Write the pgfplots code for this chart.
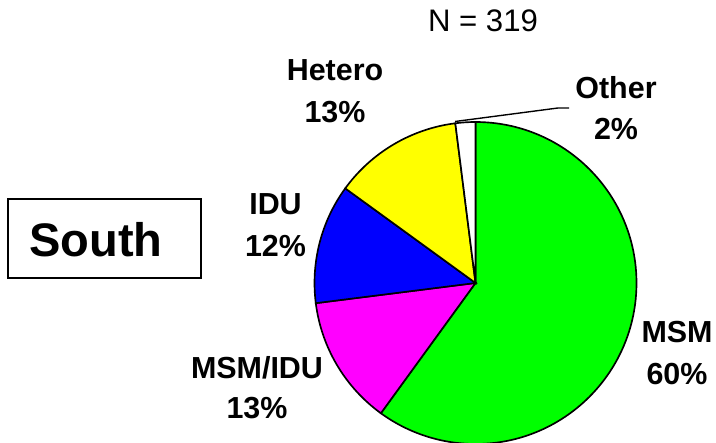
\documentclass[border=0pt]{standalone}
\usepackage{fontspec}
\setmainfont{Liberation Sans}
\usepackage{xcolor}
\usepackage{pgfplots}
\pgfplotsset{compat=1.18}

\definecolor{msm}{HTML}{00FF00}
\definecolor{msmidu}{HTML}{FF00FF}
\definecolor{idu}{HTML}{0000FF}
\definecolor{hetero}{HTML}{FFFF00}
\definecolor{other}{HTML}{FFFFFF}

\tikzset{labelfont/.style={font=\bfseries\fontsize{22}{26}\selectfont, anchor=base, inner sep=0pt}}

% shares in percent (N = 319), clockwise from 12 o'clock
\def\pMSM{60}
\def\pMSMIDU{13}
\def\pIDU{12}
\def\pHetero{13}
\def\pOther{2}

% 1 axis unit = 0.01in = 0.7227pt
\def\R{116.35pt}

\pgfmathsetmacro{\aA}{90}
\pgfmathsetmacro{\aB}{90-3.6*\pMSM}
\pgfmathsetmacro{\aC}{\aB-3.6*\pMSMIDU}
\pgfmathsetmacro{\aD}{\aC-3.6*\pIDU}
\pgfmathsetmacro{\aE}{\aD-3.6*\pHetero}
\pgfmathsetmacro{\aF}{\aE-3.6*\pOther}

\begin{document}
\begin{tikzpicture}
  \begin{axis}[
      width=7.16in,
      height=4.43in,
      scale only axis,
      xmin=0, xmax=716,
      ymin=0, ymax=443,
      hide axis,
      clip=false,
  ]
    \filldraw[fill=msm, draw=black, line width=1.2pt]
      (axis cs:475.5,160) -- ++(\aA:\R) arc[start angle=\aA, end angle=\aB, radius=\R] -- cycle;
    \filldraw[fill=msmidu, draw=black, line width=1.2pt]
      (axis cs:475.5,160) -- ++(\aB:\R) arc[start angle=\aB, end angle=\aC, radius=\R] -- cycle;
    \filldraw[fill=idu, draw=black, line width=1.2pt]
      (axis cs:475.5,160) -- ++(\aC:\R) arc[start angle=\aC, end angle=\aD, radius=\R] -- cycle;
    \filldraw[fill=hetero, draw=black, line width=1.2pt]
      (axis cs:475.5,160) -- ++(\aD:\R) arc[start angle=\aD, end angle=\aE, radius=\R] -- cycle;
    \filldraw[fill=other, draw=black, line width=1.2pt]
      (axis cs:475.5,160) -- ++(\aE:\R) arc[start angle=\aE, end angle=\aF, radius=\R] -- cycle;

    % leader for the small slice
    \draw[black, line width=1pt] (axis cs:455,321.5) -- (axis cs:558,335) -- (axis cs:569,335);

    % labels
    \node[labelfont] at (axis cs:677,100) {MSM};
    \node[labelfont] at (axis cs:677,58) {60\%};
    \node[labelfont] at (axis cs:257,64) {MSM/IDU};
    \node[labelfont] at (axis cs:257,24) {13\%};
    \node[labelfont] at (axis cs:275.5,228) {IDU};
    \node[labelfont] at (axis cs:275.5,186) {12\%};
    \node[labelfont] at (axis cs:335,362) {Hetero};
    \node[labelfont] at (axis cs:335,320) {13\%};
    \node[labelfont] at (axis cs:616,344) {Other};
    \node[labelfont] at (axis cs:616,303) {2\%};

    \node[font=\fontsize{22.5}{27}\selectfont, anchor=base, inner sep=0pt] at (axis cs:483,411) {N = 319};

    \draw[black, line width=1.2pt] (axis cs:8,165) rectangle (axis cs:201,244);
    \node[font=\bfseries\fontsize{34}{40}\selectfont, anchor=base, inner sep=0pt] at (axis cs:96,186) {South};
  \end{axis}
  \pgfresetboundingbox
  \useasboundingbox (current axis.south west) rectangle (current axis.north east);
\end{tikzpicture}
\end{document}
